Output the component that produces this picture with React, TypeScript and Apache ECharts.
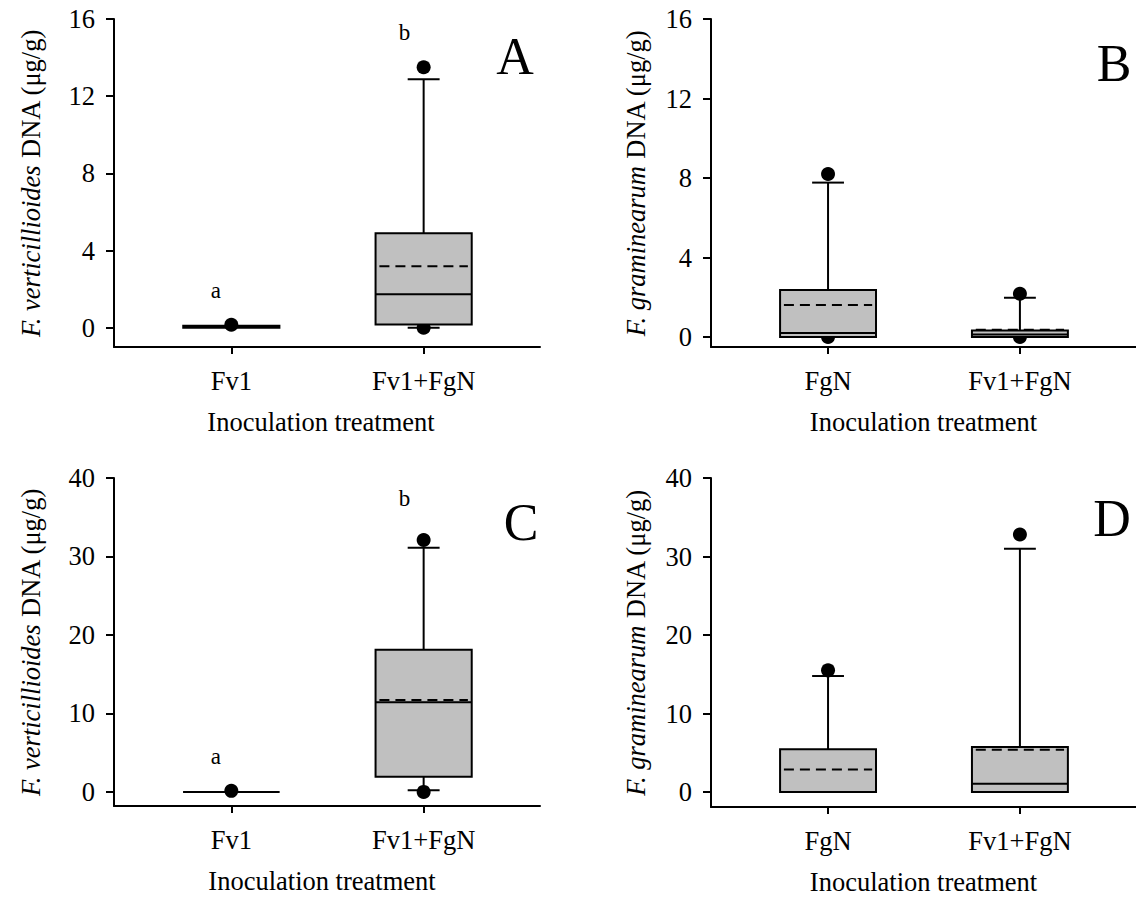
import React, { useEffect, useRef } from "react";
import * as echarts from "echarts";

const FONT = "'Liberation Serif', 'Times New Roman', serif";
const FS = 26.5;

// Treatment names on the x axes
const catsFv = ["Fv1", "Fv1+FgN"];
const catsFg = ["FgN", "Fv1+FgN"];

// Box statistics per treatment: [x, min, q1, median, q3, max, mean]
const boxA = [
  [0, 0.0, 0.0, 0.05, 0.1, 0.1, 0.06],
  [1, 0.0, 0.16, 1.73, 4.9, 12.88, 3.19],
];
const boxB = [
  [0, 0.0, 0.0, 0.2, 2.37, 7.77, 1.61],
  [1, 0.0, 0.0, 0.13, 0.33, 1.98, 0.37],
];
const boxC = [
  [0, 0.0, 0.0, 0.0, 0.0, 0.0, 0.0],
  [1, 0.2, 1.92, 11.41, 18.12, 31.1, 11.7],
];
const boxD = [
  [0, 0.0, 0.0, 0.0, 5.44, 14.78, 2.89],
  [1, 0.0, 0.0, 1.07, 5.73, 31.0, 5.4],
];

// Outlying points: [x, value]
const outA = [[0, 0.15], [1, 13.5], [1, 0.0]];
const outB = [[0, 8.2], [0, 0.0], [1, 2.18], [1, 0.0]];
const outC = [[0, 0.13], [1, 32.1], [1, 0.0]];
const outD = [[0, 15.5], [1, 32.8]];

// Significance letters: [x, y, letter]
const sigA: [number, number, string][] = [[-0.08, 1.92, "a"], [0.9, 15.3, "b"]];
const sigC: [number, number, string][] = [[-0.08, 4.47, "a"], [0.9, 37.4, "b"]];

const ticks16 = [0, 4, 8, 12, 16];
const ticks40 = [0, 10, 20, 30, 40];

const fvTitle = "{i|F. verticillioides} DNA (μg/g)";
const fgTitle = "{i|F. graminearum} DNA (μg/g)";

const grids = [
  { left: 114, top: 19, width: 426, height: 328 },
  { left: 711, top: 19, width: 426, height: 328 },
  { left: 114, top: 478, width: 426, height: 328 },
  { left: 711, top: 478, width: 426, height: 329 },
];

const HALF_BOX = 0.25;
const HALF_CAP = 0.083;

function renderBox(params: any, api: any) {
  const x = api.value(0);
  const mn = api.value(1);
  const q1 = api.value(2);
  const md = api.value(3);
  const q3 = api.value(4);
  const mx = api.value(5);
  const mean = api.value(6);
  const p = (xx: number, yy: number) => api.coord([xx, yy]);
  const line = (x1: number, x2: number, y: number, dash?: number[]) => {
    const a = p(x1, y);
    const b = p(x2, y);
    return {
      type: "line",
      shape: { x1: a[0], y1: a[1], x2: b[0], y2: b[1] },
      style: { stroke: "#000", lineWidth: 2, lineDash: dash || null, fill: null },
    };
  };
  const vline = (y1: number, y2: number) => {
    const a = p(x, y1);
    const b = p(x, y2);
    return {
      type: "line",
      shape: { x1: a[0], y1: a[1], x2: b[0], y2: b[1] },
      style: { stroke: "#000", lineWidth: 2 },
    };
  };
  const tl = p(x - HALF_BOX, q3);
  const br = p(x + HALF_BOX, q1);
  const children: any[] = [];
  if (mx > q3) {
    children.push(vline(q3, mx));
    children.push(line(x - HALF_CAP, x + HALF_CAP, mx));
  }
  if (mn < q1) {
    children.push(vline(mn, q1));
    children.push(line(x - HALF_CAP, x + HALF_CAP, mn));
  }
  children.push({
    type: "rect",
    shape: { x: tl[0], y: tl[1], width: br[0] - tl[0], height: br[1] - tl[1] },
    style: { fill: "#c0c0c0", stroke: "#000", lineWidth: 2 },
  });
  children.push(line(x - HALF_BOX, x + HALF_BOX, md));
  children.push(line(x - HALF_BOX + 0.02, x + HALF_BOX - 0.02, mean, [10, 6]));
  return { type: "group", children };
}

function xAxisFor(gridIndex: number, cats: string[], titleShift: number) {
  return {
    type: "value",
    gridIndex,
    min: -0.61,
    max: 1.605,
    splitLine: { show: false },
    axisLine: { onZero: false, lineStyle: { color: "#000", width: 2 } },
    axisTick: { customValues: [0, 1], length: 7, lineStyle: { color: "#000", width: 2 } },
    axisLabel: {
      customValues: [0, 1],
      formatter: (v: number) => cats[Math.round(v)],
      fontSize: FS,
      fontFamily: FONT,
      color: "#000",
      margin: 20,
    },
    name: "Inoculation treatment",
    nameLocation: "middle",
    nameGap: 61,
    nameTextStyle: {
      fontSize: FS,
      fontFamily: FONT,
      color: "#000",
      padding: [0, titleShift, 0, 0],
    },
  };
}

function yAxisFor(gridIndex: number, min: number, max: number, ticks: number[], title: string, gap: number) {
  return {
    type: "value",
    gridIndex,
    min,
    max,
    splitLine: { show: false },
    axisLine: { onZero: false, lineStyle: { color: "#000", width: 2 } },
    axisTick: { customValues: ticks, length: 8, lineStyle: { color: "#000", width: 2 } },
    axisLabel: {
      customValues: ticks,
      fontSize: FS,
      fontFamily: FONT,
      color: "#000",
      margin: 19,
    },
    name: title,
    nameLocation: "middle",
    nameGap: gap,
    nameTextStyle: {
      fontSize: FS,
      fontFamily: FONT,
      color: "#000",
      rich: { i: { fontStyle: "italic", fontSize: FS, fontFamily: FONT, color: "#000" } },
    },
  };
}

function boxSeries(idx: number, data: number[][]) {
  return {
    type: "custom",
    xAxisIndex: idx,
    yAxisIndex: idx,
    renderItem: renderBox,
    encode: { x: 0, y: [1, 2, 3, 4, 5, 6] },
    data,
    z: 3,
    clip: false,
  };
}

function outlierSeries(idx: number, data: number[][]) {
  return {
    type: "scatter",
    xAxisIndex: idx,
    yAxisIndex: idx,
    data,
    symbol: "circle",
    symbolSize: 14,
    itemStyle: { color: "#000", opacity: 1 },
    z: 2,
  };
}

function letterSeries(idx: number, data: [number, number, string][]) {
  return {
    type: "scatter",
    xAxisIndex: idx,
    yAxisIndex: idx,
    data: data.map((d) => ({ value: [d[0], d[1]], name: d[2] })),
    symbolSize: 0,
    itemStyle: { opacity: 1 },
    label: {
      show: true,
      position: "inside",
      formatter: "{b}",
      fontSize: 23,
      fontFamily: FONT,
      color: "#000",
      opacity: 1,
    },
    z: 4,
  };
}

const panelLetters = [
  { text: "A", x: 515, y: 56 },
  { text: "B", x: 1114, y: 63 },
  { text: "C", x: 521, y: 522 },
  { text: "D", x: 1112, y: 518 },
];

export default function App() {
  const ref = useRef<HTMLDivElement>(null);
  useEffect(() => {
    if (!ref.current) return;
    const chart = echarts.init(ref.current, undefined, { renderer: "svg" });
    chart.setOption({
      animation: false,
      backgroundColor: "#fff",
      grid: grids,
      xAxis: [
        xAxisFor(0, catsFv, 12),
        xAxisFor(1, catsFg, 0),
        xAxisFor(2, catsFv, 10),
        xAxisFor(3, catsFg, 0),
      ],
      yAxis: [
        yAxisFor(0, -1, 16, ticks16, fvTitle, 70),
        yAxisFor(1, -0.5, 16, ticks16, fgTitle, 62),
        yAxisFor(2, -1.8, 40, ticks40, fvTitle, 70),
        yAxisFor(3, -1.9, 40, ticks40, fgTitle, 62),
      ],
      series: [
        outlierSeries(0, outA),
        boxSeries(0, boxA),
        letterSeries(0, sigA),
        outlierSeries(1, outB),
        boxSeries(1, boxB),
        outlierSeries(2, outC),
        boxSeries(2, boxC),
        letterSeries(2, sigC),
        outlierSeries(3, outD),
        boxSeries(3, boxD),
      ],
      graphic: panelLetters.map((l) => ({
        type: "text",
        x: l.x,
        y: l.y,
        style: {
          text: l.text,
          fontSize: 52,
          fontFamily: FONT,
          fill: "#000",
          textAlign: "center",
          textVerticalAlign: "middle",
        },
      })),
    });
    return () => chart.dispose();
  }, []);
  return (
    <div
      ref={ref}
      style={{ position: "absolute", left: 0, top: 0, width: 1136, height: 899 }}
    />
  );
}
